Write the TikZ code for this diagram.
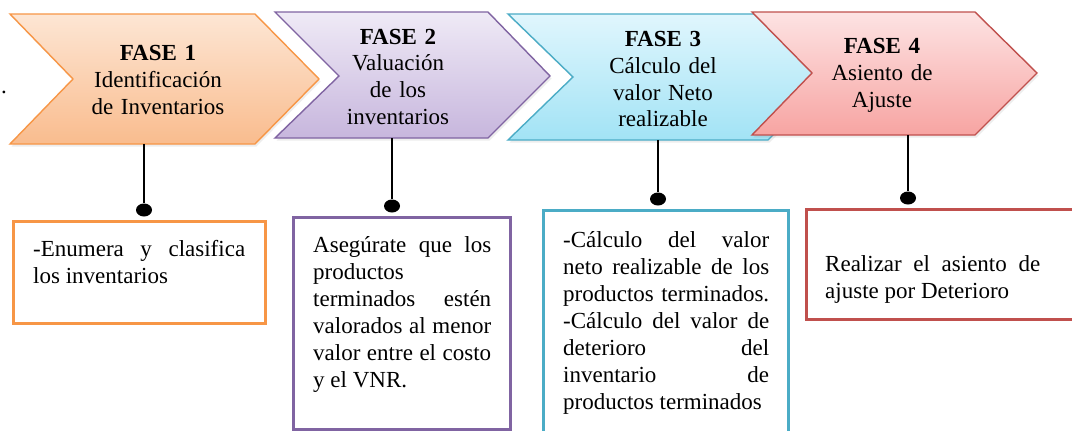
\documentclass[tikz,border=0pt]{standalone}
\usepackage{fontspec}
\setmainfont{Liberation Serif}
\usetikzlibrary{shapes.geometric,shadows}
\definecolor{orline}{HTML}{F79646}
\definecolor{ortop}{HTML}{FDE6D4}
\definecolor{orbot}{HTML}{F9BC8E}
\definecolor{puline}{HTML}{8064A2}
\definecolor{putop}{HTML}{EFEAF6}
\definecolor{pubot}{HTML}{C7B6DD}
\definecolor{blline}{HTML}{4BACC6}
\definecolor{bltop}{HTML}{E0F6FD}
\definecolor{blbot}{HTML}{A2E3F5}
\definecolor{rdline}{HTML}{C0504D}
\definecolor{rdtop}{HTML}{FDE3E3}
\definecolor{rdbot}{HTML}{F7A4A2}
\tolerance=10000
\hyphenpenalty=10000
\hbadness=10000
\begin{document}
\begin{tikzpicture}[x=1pt,y=-1pt,
  txt/.style={font=\fontsize{23}{27}\selectfont},
  chev/.style={line width=1.4pt, line join=miter, drop shadow={opacity=0.14, shadow xshift=1.5pt, shadow yshift=-2.5pt}},
  chevtext/.style={txt, inner sep=0pt, anchor=base, text width=230pt, align=center},
  boxtext/.style={txt, inner sep=0pt, anchor=base west, align=justify},
  infobox/.style={draw, line width=3pt, fill=white, inner sep=0pt, minimum width=#1},
  dotnode/.style={ellipse, fill=black, inner sep=0pt, minimum width=16pt, minimum height=13pt},
  conn/.style={line width=2pt, black}]
\useasboundingbox (0,0) rectangle (1072,431);
\fill[white] (0,0) rectangle (1072,431);

% chevrons
\draw[chev, draw=orline, top color=ortop, bottom color=orbot]
  (10,14) -- (255,14) -- (319,79) -- (255,144) -- (10,144) -- (73,79) -- cycle;
\draw[chev, draw=puline, top color=putop, bottom color=pubot]
  (275,12) -- (488,12) -- (550,76) -- (488,138) -- (275,138) -- (339,76) -- cycle;
\draw[chev, draw=blline, top color=bltop, bottom color=blbot]
  (508,14) -- (768,14) -- (831,77) -- (768,140) -- (508,140) -- (573,77) -- cycle;
\draw[chev, draw=rdline, top color=rdtop, bottom color=rdbot]
  (752,12) -- (975,12) -- (1037,73) -- (975,135) -- (752,135) -- (812,73) -- cycle;

\node[chevtext] (t1) at (158,60) {\textbf{FASE 1}\\Identificación\\de Inventarios};
\node[chevtext] (t2) at (398,44) {\textbf{FASE 2}\\Valuación\\de los\\inventarios};
\node[chevtext] (t3) at (663,46) {\textbf{FASE 3}\\Cálculo del\\valor Neto\\realizable};
\node[chevtext] (t4) at (882,53) {\textbf{FASE 4}\\Asiento de\\Ajuste};

\node[txt, anchor=base west, inner sep=0pt] (stray) at (1,93) {.};

% boxes
\node[infobox=252pt, draw=orline, minimum height=102pt] (b1) at (139,272) {};
\node[infobox=217pt, draw=puline, minimum height=212pt] (b2) at (401.5,323) {};
\node[infobox=245pt, draw=blline, minimum height=224pt] (b3) at (665.5,322) {};
\node[infobox=276pt, draw=rdline, minimum height=110pt] (b4) at (944,264) {};

\node[boxtext, text width=212pt] (x1) at (33,256) {-Enumera y clasifica\linebreak los inventarios};
\node[boxtext, text width=178pt] (x2) at (313,252) {Asegúrate que los\linebreak productos\linebreak terminados estén\linebreak valorados al menor\linebreak valor entre el costo\linebreak y el VNR.};
\node[boxtext, text width=206pt] (x3) at (563,247) {-Cálculo del valor\linebreak neto realizable de los\linebreak productos terminados.\linebreak -Cálculo del valor de\linebreak deterioro del\linebreak inventario de\linebreak productos terminados};
\node[boxtext, text width=215pt] (x4) at (825,271) {Realizar el asiento de\linebreak ajuste por Deterioro};

% connectors
\coordinate (c1) at (144,144);
\coordinate (c2) at (392,138);
\coordinate (c3) at (658,140);
\coordinate (c4) at (908,135);
\node[dotnode] (d1) at (144,210) {};
\node[dotnode] (d2) at (392,206) {};
\node[dotnode] (d3) at (658,199) {};
\node[dotnode] (d4) at (908,198) {};
\draw[conn] (c1) -- (d1);
\draw[conn] (c2) -- (d2);
\draw[conn] (c3) -- (d3);
\draw[conn] (c4) -- (d4);
\end{tikzpicture}
\end{document}
